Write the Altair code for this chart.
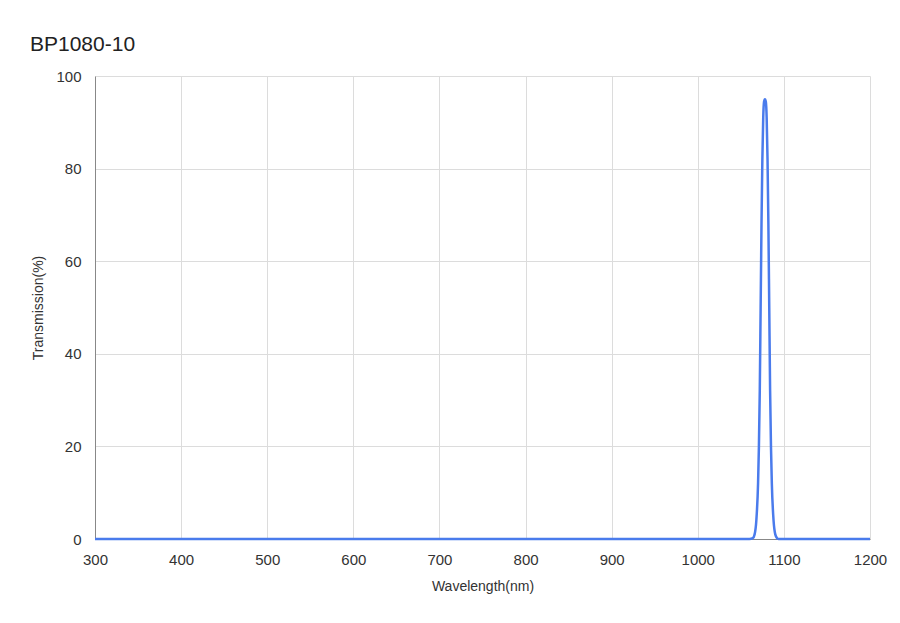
import altair as alt
import pandas as pd

wavelength = [300, 1000, 1060, 1064, 1066, 1068, 1070, 1071, 1072, 1073, 1074, 1075, 1076, 1077,
              1078, 1079, 1080, 1081, 1082, 1083, 1084, 1085, 1086, 1088, 1090, 1092, 1094, 1100, 1200]
transmission = [0, 0, 0, 0.2, 1, 4, 12, 20, 32, 50, 68, 82, 91, 94.5,
                95, 94.5, 91, 82, 68, 50, 32, 20, 12, 4, 1, 0.2, 0, 0, 0]

df = pd.DataFrame({"Wavelength": wavelength, "Transmission": transmission})

FONT = "Liberation Sans"

chart = alt.Chart(df).mark_line(color="#4a7bec", strokeWidth=2.5, interpolate="monotone").encode(
    x=alt.X("Wavelength:Q", scale=alt.Scale(domain=[300, 1200], nice=False),
            axis=alt.Axis(title="Wavelength(nm)", values=[300, 400, 500, 600, 700, 800, 900, 1000, 1100, 1200],
                          format="d", labelFlush=False,
                          labelPadding=13, titlePadding=12, ticks=False)),
    y=alt.Y("Transmission:Q", scale=alt.Scale(domain=[0, 100], nice=False),
            axis=alt.Axis(title="Transmission(%)", values=[0, 20, 40, 60, 80, 100],
                          labelPadding=14, titlePadding=10, ticks=False)),
).properties(
    width=775, height=463,
    title=alt.TitleParams("BP1080-10", anchor="start", frame="group", dx=-65, offset=14,
                          fontSize=21, fontWeight="normal", font=FONT, color="#222"),
    autosize=alt.AutoSizeParams(type="none"),
    padding={"left": 87, "top": 68, "right": 22, "bottom": 76},
).configure_axis(
    gridColor="#dcdcdc", domainColor="#888", labelFont=FONT, titleFont=FONT,
    labelFontSize=15, titleFontSize=14, labelColor="#333", titleColor="#333",
    titleFontWeight="normal",
).configure_view(stroke=None)

chart.save("out.html", embed_options={"renderer": "svg", "actions": False})
